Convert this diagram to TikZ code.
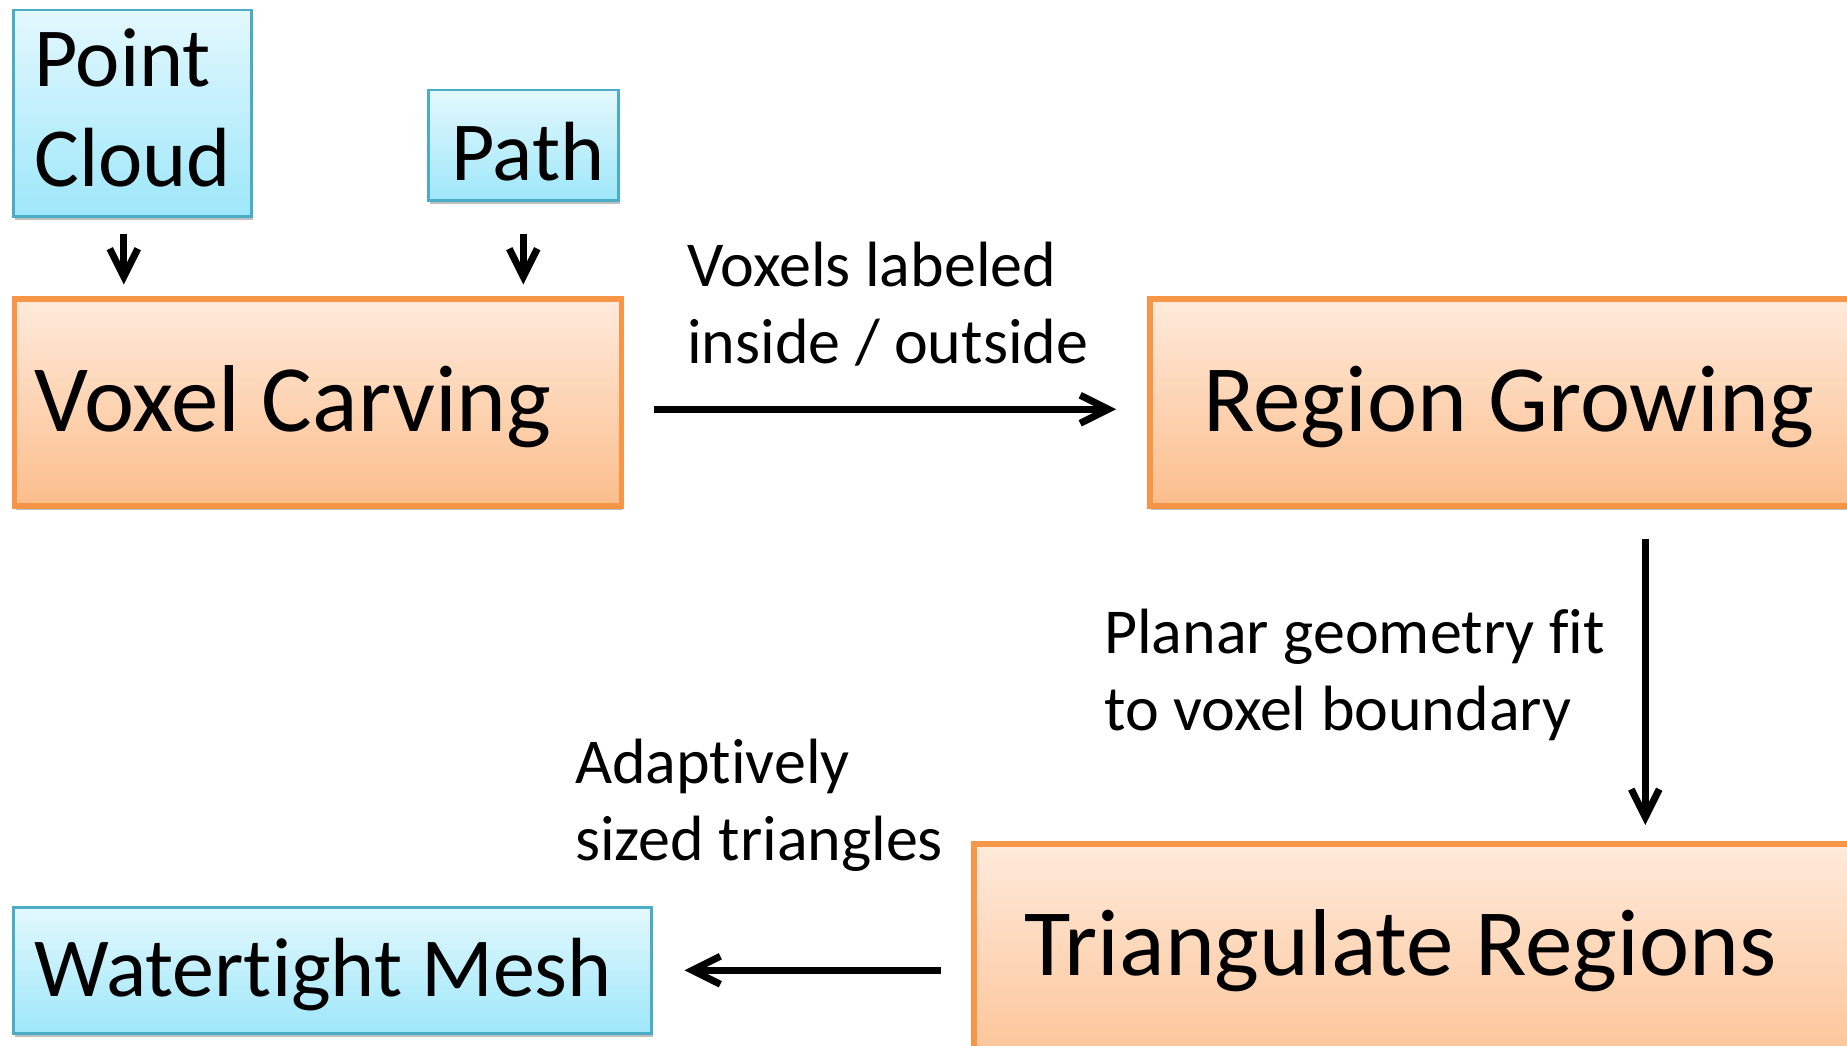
\documentclass[tikz,border=0pt]{standalone}
\usepackage{fontspec}
\setmainfont{Carlito}[Ligatures=NoCommon]
\usetikzlibrary{arrows.meta,shadows}
\definecolor{obrd}{HTML}{F79646}
\definecolor{otop}{HTML}{FFEADB}
\definecolor{obot}{HTML}{FBBE8C}
\definecolor{bbrd}{HTML}{4BACC6}
\definecolor{btop}{HTML}{E3F8FD}
\definecolor{bbot}{HTML}{9EE7FA}
\begin{document}
\begin{tikzpicture}[x=1pt,y=-1pt,
  shad/.style={drop shadow={shadow xshift=1.5pt,shadow yshift=-4pt,opacity=0.25,fill=black}},
  obox/.style={shad, draw=obrd, line width=5.5pt, top color=otop, bottom color=obot, anchor=north west, inner ysep=0pt, align=flush left},
  bbox/.style={shad, draw=bbrd, line width=2.5pt, top color=btop, bottom color=bbot, anchor=north west, inner ysep=0pt, align=flush left},
  big/.style={font=\fontsize{95}{105}\selectfont},
  mid/.style={font=\fontsize{84}{100}\selectfont},
  lab/.style={font=\fontsize{64}{77}\selectfont, align=left, anchor=base west, inner sep=0pt},
  arr/.style={line width=7pt, -{Straight Barb[length=28pt,width=28pt]}},
]
\useasboundingbox (0,0) rectangle (1847,1046);

\node[obox, big, minimum width=607pt, minimum height=207pt, inner xsep=20.5pt, text width=566pt, text height=72pt, text depth=13pt] (vc) at (11.5,296) {Voxel Carving};
\node[obox, big, minimum width=991pt, minimum height=207pt, inner xsep=53.5pt, text width=884pt, text height=72pt, text depth=13pt] (rg) at (1147,296) {Region Growing};
\node[obox, big, minimum width=1343pt, minimum height=253pt, inner xsep=50.5pt, text width=1242pt, text height=70pt, text depth=60pt] (tri) at (971,841) {Triangulate Regions};
\node[bbox, mid, minimum width=638pt, minimum height=126pt, inner xsep=21pt, text width=596pt, text height=66pt, text depth=14pt] (wm) at (12,906) {Watertight Mesh};
\node[bbox, mid, minimum width=238pt, minimum height=206pt, inner xsep=21pt, text width=196pt, text height=66pt, text depth=120pt] (pc) at (12,9) {Point\\Cloud};
\node[bbox, mid, minimum width=190pt, minimum height=110pt, inner xsep=23pt, text width=144pt, text height=70pt, text depth=0pt] (pth) at (427,89) {Path};

\node[lab] (l1) at (687,363) {Voxels labeled\\inside / outside};
\node[lab] (l2) at (1104,730) {Planar geometry fit\\to voxel boundary};
\node[lab] (l3) at (575,860) {Adaptively\\sized triangles};

\coordinate (pa) at ([xshift=-8.5pt,yshift=-16pt]pc.south);
\draw[arr, shorten >=11.5pt] (pa) -- (pa |- vc.north);
\draw[arr, shorten >=11.5pt] ([yshift=-32pt]pth.south) -- (pth.south |- vc.north);
\draw[arr] ([xshift=30pt,yshift=-7pt]vc.east) -- ([xshift=-31pt,yshift=-7pt]rg.west);
\draw[arr] ([yshift=-30pt]rg.south) -- ([yshift=16pt]tri.north);
\draw[arr] ([xshift=-30pt]tri.west) -- ([xshift=32pt]wm.east |- tri.west);
\end{tikzpicture}
\end{document}
